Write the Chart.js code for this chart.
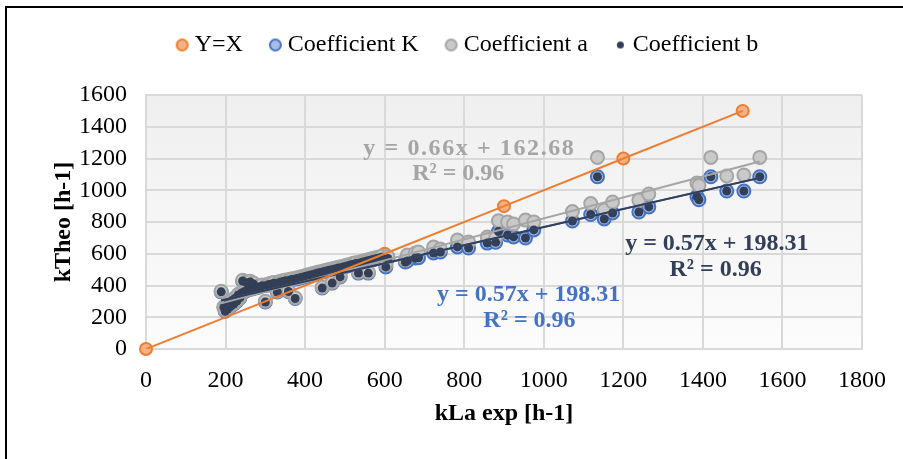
<!DOCTYPE html>
<html>
<head>
<meta charset="utf-8">
<title>kLa vs kTheo</title>
<script src="https://cdn.jsdelivr.net/npm/chart.js@4.4.0/dist/chart.umd.min.js"></script>
<style>
  html, body { margin: 0; padding: 0; background: #fff; }
  canvas { display: block; }
</style>
</head>
<body>
<canvas id="kChart" width="903" height="459"></canvas>
<script>
// experimental kLa (h-1), shared by the three coefficient series
const kLaExp = [
  189, 196, 199, 202, 205, 208, 212, 216, 220, 224, 228, 232, 236, 240, 243, 248, 252, 256, 262, 266,
  270, 275, 280, 286, 292, 300, 304, 310, 316, 322, 330, 334, 340, 346, 352, 358, 362, 368, 375, 378,
  384, 390, 396, 402, 408, 414, 420, 426, 432, 438, 443, 446, 452, 458, 464, 468, 472, 478, 484, 488,
  492, 498, 504, 510, 516, 522, 528, 534, 538, 544, 550, 556, 559, 562, 568, 574, 580, 586, 592, 603,
  608, 652, 657, 677, 685, 723, 740, 783, 811, 858, 879, 886, 909, 924, 954, 975,
  1072, 1118, 1135, 1152, 1173, 1239, 1264, 1385, 1390, 1420, 1460, 1503, 1543
];
const coefK = [
  360, 262, 238, 275, 250, 292, 268, 305, 282, 318, 300, 340, 322, 352, 428, 362, 418, 372, 422, 378,
  410, 384, 388, 392, 398, 296, 402, 406, 410, 414, 359, 418, 422, 426, 430, 362, 434, 438, 318, 442,
  446, 450, 454, 458, 462, 466, 470, 474, 478, 482, 384, 486, 490, 494, 498, 415, 502, 506, 510, 454,
  514, 518, 522, 526, 530, 534, 538, 478, 542, 546, 550, 554, 478, 558, 562, 566, 570, 574, 578, 517,
  570, 548, 555, 573, 575, 605, 611, 643, 636, 667, 672, 740, 718, 706, 699, 750,
  806, 847, 1085, 819, 857, 863, 895, 960, 940, 1085, 995, 995, 1085
];
const coefA = [
  364, 266, 243, 279, 255, 297, 273, 309, 287, 323, 304, 345, 327, 357, 433, 367, 423, 377, 427, 383,
  415, 389, 393, 397, 403, 301, 407, 411, 415, 419, 364, 423, 427, 431, 435, 367, 439, 443, 323, 447,
  451, 455, 459, 463, 467, 471, 475, 479, 483, 487, 389, 491, 495, 499, 503, 420, 507, 511, 515, 459,
  519, 523, 527, 531, 535, 540, 544, 484, 548, 552, 556, 560, 484, 564, 568, 572, 576, 580, 584, 530,
  582, 560, 592, 605, 611, 642, 630, 686, 674, 705, 700, 808, 800, 787, 812, 800,
  866, 916, 1207, 876, 926, 938, 976, 1045, 1030, 1207, 1090, 1096, 1207
];
const coefB = [
  360, 262, 238, 275, 250, 292, 268, 305, 282, 318, 300, 340, 322, 352, 428, 362, 418, 372, 422, 378,
  410, 384, 388, 392, 398, 296, 402, 406, 410, 414, 359, 418, 422, 426, 430, 362, 434, 438, 318, 442,
  446, 450, 454, 458, 462, 466, 470, 474, 478, 482, 384, 486, 490, 494, 498, 415, 502, 506, 510, 454,
  514, 518, 522, 526, 530, 534, 538, 478, 542, 546, 550, 554, 478, 558, 562, 566, 570, 574, 578, 517,
  570, 548, 555, 573, 575, 605, 611, 643, 636, 667, 672, 740, 718, 706, 699, 750,
  806, 847, 1085, 819, 857, 863, 895, 960, 940, 1085, 995, 995, 1085
];

// reference line y = x
const identityX = [0, 300, 600, 900, 1200, 1500];

// linear fits: [slope, intercept]
const fitK = [0.57, 198.31];
const fitA = [0.66, 162.68];
const fitB = [0.57, 198.31];
const r2Text = 'R² = 0.96';

const xTicks = [0, 200, 400, 600, 800, 1000, 1200, 1400, 1600, 1800];
const yTicks = [0, 200, 400, 600, 800, 1000, 1200, 1400, 1600];

const ORANGE = '#ed7d31', BLUE = '#4472c4', GREY = '#a5a5a5', NAVY = '#323f56';
const SERIF = "'Liberation Serif', 'Times New Roman', serif";

const pts = (ys) => kLaExp.map((x, i) => ({ x: x, y: ys[i] }));
const xMin = Math.min(...kLaExp), xMax = Math.max(...kLaExp);
const fitLine = (f) => [xMin, xMax].map(x => ({ x: x, y: f[0] * x + f[1] }));
const eqText = (f) => 'y = ' + f[0].toFixed(2) + 'x + ' + f[1].toFixed(2);

// small round icons for the legend
function dotIcon(r, fill, stroke, lw) {
  const c = document.createElement('canvas');
  const s = Math.ceil(2 * r + lw + 2);
  c.width = c.height = s;
  const g = c.getContext('2d');
  g.beginPath();
  g.arc(s / 2, s / 2, r, 0, Math.PI * 2);
  g.fillStyle = fill;
  g.fill();
  if (lw) { g.lineWidth = lw; g.strokeStyle = stroke; g.stroke(); }
  return c;
}
const legendIcons = [
  dotIcon(5.5, '#f4b183', ORANGE, 2),
  dotIcon(5.5, '#a9bde3', BLUE, 2),
  dotIcon(5.5, '#c9c9c9', GREY, 2),
  dotIcon(3.5, NAVY, NAVY, 0)
];

// equation labels, placed in data units
const fitLabels = [
  { text: eqText(fitA), color: GREY, x: 813, y: 1260, spacing: '1.6px' },
  { text: r2Text, color: GREY, x: 785, y: 1102 },
  { text: eqText(fitB), color: NAVY, x: 1435, y: 661 },
  { text: r2Text, color: NAVY, x: 1432, y: 498 },
  { text: eqText(fitK), color: BLUE, x: 962, y: 340 },
  { text: r2Text, color: BLUE, x: 964, y: 176 }
];

const framePlugin = {
  id: 'frame',
  beforeDraw(chart) {
    const { ctx, chartArea: a } = chart;
    ctx.save();
    ctx.fillStyle = '#fff';
    ctx.fillRect(0, 0, chart.width, chart.height);
    ctx.strokeStyle = '#000';
    ctx.lineWidth = 2;
    ctx.beginPath();
    ctx.moveTo(6, chart.height);
    ctx.lineTo(6, 7);
    ctx.lineTo(chart.width, 7);
    ctx.stroke();
    const grad = ctx.createLinearGradient(0, a.top, 0, a.bottom);
    grad.addColorStop(0, '#efefef');
    grad.addColorStop(1, '#fcfcfc');
    ctx.fillStyle = grad;
    ctx.fillRect(a.left, a.top, a.right - a.left, a.bottom - a.top);
    ctx.restore();
  }
};

const fitLabelPlugin = {
  id: 'fitLabels',
  afterDatasetsDraw(chart) {
    const { ctx, scales: { x, y } } = chart;
    ctx.save();
    ctx.font = 'bold 24px ' + SERIF;
    ctx.textAlign = 'center';
    ctx.textBaseline = 'middle';
    fitLabels.forEach(l => {
      ctx.letterSpacing = l.spacing || '0px';
      ctx.fillStyle = l.color;
      ctx.fillText(l.text, x.getPixelForValue(l.x), y.getPixelForValue(l.y));
    });
    ctx.restore();
  }
};

new Chart(document.getElementById('kChart'), {
  type: 'scatter',
  data: {
    datasets: [
      { label: 'Y=X', data: identityX.map(v => ({ x: v, y: v })), order: 10, clip: false,
        pointRadius: 6, pointBackgroundColor: '#f4b183', pointBorderColor: ORANGE, pointBorderWidth: 2 },
      { label: 'Coefficient K', data: pts(coefK), order: 9,
        pointRadius: 6.5, pointBackgroundColor: '#a9bde3', pointBorderColor: BLUE, pointBorderWidth: 2 },
      { label: 'Coefficient a', data: pts(coefA), order: 8,
        pointRadius: 6.5, pointBackgroundColor: '#c9c9c9', pointBorderColor: GREY, pointBorderWidth: 2 },
      { label: 'Coefficient b', data: pts(coefB), order: 7,
        pointRadius: 4.5, pointBackgroundColor: NAVY, pointBorderColor: NAVY, pointBorderWidth: 0 },
      { label: 'fit K', data: fitLine(fitK), order: 6, showLine: true, pointRadius: 0,
        borderColor: BLUE, borderWidth: 2 },
      { label: 'fit a', data: fitLine(fitA), order: 5, showLine: true, pointRadius: 0,
        borderColor: GREY, borderWidth: 2 },
      { label: 'fit b', data: fitLine(fitB), order: 4, showLine: true, pointRadius: 0,
        borderColor: NAVY, borderWidth: 2 },
      { label: 'Y=X line', data: identityX.map(v => ({ x: v, y: v })), order: 3, showLine: true,
        pointRadius: 0, borderColor: ORANGE, borderWidth: 2 }
    ]
  },
  options: {
    responsive: false,
    animation: false,
    events: [],
    layout: { padding: { top: 1, left: 78, right: 41, bottom: 0 } },
    plugins: {
      tooltip: { enabled: false },
      legend: {
        position: 'top',
        labels: {
          usePointStyle: true,
          pointStyleWidth: 1,
          padding: 32,
          color: '#000',
          font: { family: SERIF, size: 24 },
          generateLabels: (chart) => [0, 1, 2, 3].map(i => ({
            text: chart.data.datasets[i].label,
            pointStyle: legendIcons[i],
            fillStyle: 'transparent',
            strokeStyle: 'transparent',
            lineWidth: 0,
            hidden: false,
            datasetIndex: i
          }))
        }
      },
      // empty spacer between the legend and the plot
      subtitle: {
        display: true,
        text: ' ',
        weight: 500,
        font: { size: 1, lineHeight: 1 },
        padding: { top: 0, bottom: 27 }
      }
    },
    scales: {
      x: {
        type: 'linear',
        min: 0, max: 1800,
        afterBuildTicks: (s) => { s.ticks = xTicks.map(v => ({ value: v })); },
        afterFit: (s) => { s.height = 110; },
        grid: { color: '#d9d9d9', lineWidth: 2, drawTicks: false },
        border: { color: '#d9d9d9', width: 2 },
        ticks: { color: '#000', padding: 17, autoSkip: false, maxRotation: 0,
          font: { family: SERIF, size: 24 }, callback: (v) => String(v) },
        title: { display: true, text: 'kLa exp [h-1]', color: '#000',
          padding: { top: 0, bottom: 31 }, font: { family: SERIF, size: 24, weight: 'bold' } }
      },
      y: {
        type: 'linear',
        min: 0, max: 1600,
        afterBuildTicks: (s) => { s.ticks = yTicks.map(v => ({ value: v })); },
        afterFit: (s) => { s.width = 68; },
        grid: { color: '#d9d9d9', lineWidth: 2, drawTicks: false },
        border: { color: '#d9d9d9', width: 2 },
        ticks: { color: '#000', padding: 19, autoSkip: false,
          font: { family: SERIF, size: 24 }, callback: (v) => String(v) },
        // title sits out in the left margin, past the axis box
        title: { display: true, text: 'kTheo [h-1]', color: '#000',
          padding: { top: -29, bottom: 0 }, font: { family: SERIF, size: 24, weight: 'bold' } }
      }
    }
  },
  plugins: [framePlugin, fitLabelPlugin]
});
</script>
</body>
</html>
